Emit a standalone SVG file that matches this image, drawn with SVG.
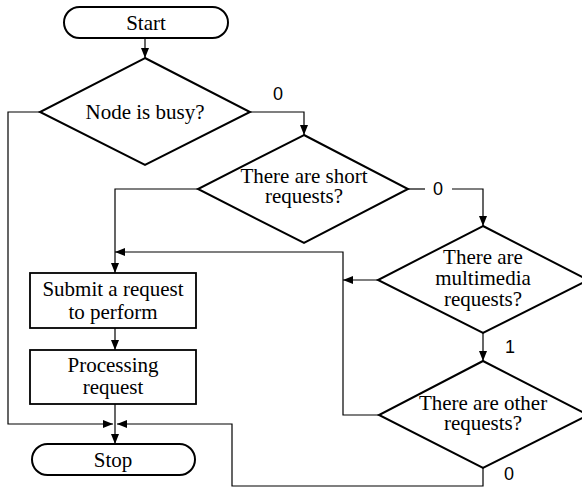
<svg xmlns="http://www.w3.org/2000/svg" width="582" height="489" viewBox="0 0 582 489">
  <defs>
    <marker id="arrow" viewBox="0 0 10 8" refX="10" refY="4" markerWidth="10" markerHeight="8" markerUnits="userSpaceOnUse" orient="auto">
      <path d="M0,0 L10,4 L0,8 Z" fill="#000"/>
    </marker>
  </defs>
  <style>
    .shape { fill: #fff; stroke: #000; stroke-width: 2; }
    .box { fill: #fff; stroke: #000; stroke-width: 1.8; }
    .label { font-size: 21px; fill: #000; text-anchor: middle; }
    .flag { font-size: 18px; fill: #000; text-anchor: middle; }
    .wire { fill: none; stroke: #000; stroke-width: 1.2; }
    .wire.arr { marker-end: url(#arrow); }
  </style>
  <rect width="582" height="489" fill="#fff"/>

  <g id="connectors">
    <!-- Start to first decision -->
    <path class="wire arr" d="M145,38 V58"/>
    <!-- busy: straight to the end -->
    <path class="wire arr" d="M40,112 H8 V424 H113"/>
    <!-- not busy -->
    <path class="wire arr" d="M250,112 H304 V135"/>
    <!-- short requests: yes -->
    <path class="wire arr" d="M198,189 H115 V273"/>
    <!-- short requests: no -->
    <path class="wire" d="M408,189 H425"/>
    <path class="wire arr" d="M452,189 H483 V226"/>
    <!-- multimedia: yes -->
    <path class="wire arr" d="M378,280 H343"/>
    <!-- multimedia: no -->
    <path class="wire arr" d="M483,333 V361"/>
    <!-- other requests: yes, back to submit -->
    <path class="wire arr" d="M379,415 H343 V252 H115"/>
    <!-- other requests: no -->
    <path class="wire arr" d="M483,468 V486 H232 V424 H117"/>
    <!-- process chain -->
    <path class="wire arr" d="M115,328 V350"/>
    <path class="wire arr" d="M115,404 V444"/>
  </g>

  <g font-family="Liberation Serif, Times New Roman, serif">
  <g id="start">
    <rect class="shape" x="64" y="7" width="164" height="31" rx="15.5"/>
    <text class="label" x="146" y="29.5">Start</text>
  </g>

  <g id="node-busy">
    <polygon class="shape" points="145,58 250,112 145,165 40,112"/>
    <text class="label" x="145" y="119">Node is busy?</text>
  </g>

  <g id="short-requests">
    <polygon class="shape" points="304,135 408,189 304,243 198,189"/>
    <text class="label" x="304" y="183">There are short</text>
    <text class="label" x="304" y="203">requests?</text>
  </g>

  <g id="multimedia-requests">
    <polygon class="shape" points="483,226 588,280 483,333 378,280"/>
    <text class="label" x="483" y="264">There are</text>
    <text class="label" x="483" y="285">multimedia</text>
    <text class="label" x="483" y="306">requests?</text>
  </g>

  <g id="other-requests">
    <polygon class="shape" points="483,361 588,415 483,468 379,415"/>
    <text class="label" x="483" y="410">There are other</text>
    <text class="label" x="483" y="430">requests?</text>
  </g>

  <g id="submit">
    <rect class="box" x="30" y="273" width="166" height="55"/>
    <text class="label" x="113" y="296">Submit a request</text>
    <text class="label" x="113" y="319">to perform</text>
  </g>

  <g id="processing">
    <rect class="box" x="30" y="350" width="166" height="54"/>
    <text class="label" x="113" y="372">Processing</text>
    <text class="label" x="113" y="394">request</text>
  </g>

  <g id="stop">
    <rect class="shape" x="32" y="444" width="163" height="31" rx="15.5"/>
    <text class="label" x="113" y="466.5">Stop</text>
  </g>
  </g>

  <g id="branch-labels" font-family="Liberation Sans, Arial, sans-serif">
    <text class="flag" x="278" y="100">0</text>
    <text class="flag" x="438" y="195">0</text>
    <text class="flag" x="510" y="353">1</text>
    <text class="flag" x="509" y="480">0</text>
  </g>
</svg>
